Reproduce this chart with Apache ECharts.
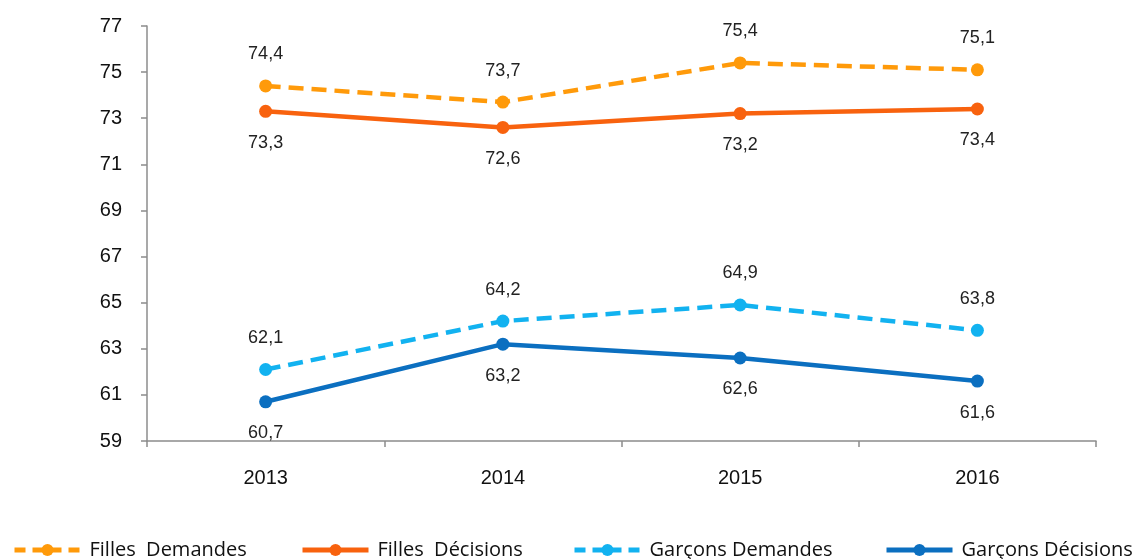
<!DOCTYPE html>
<html>
<head>
<meta charset="utf-8">
<script src="https://cdn.jsdelivr.net/npm/echarts@6/dist/echarts.min.js"></script>
<style>
  html, body { margin: 0; padding: 0; background: #fff; }
  #chart { width: 1136px; height: 559px; }
</style>
</head>
<body>
<div id="chart"></div>
<script>
var years = ['2013', '2014', '2015', '2016'];
var fillesDemandes = [74.4, 73.7, 75.4, 75.1];
var fillesDecisions = [73.3, 72.6, 73.2, 73.4];
var garconsDemandes = [62.1, 64.2, 64.9, 63.8];
var garconsDecisions = [60.7, 63.2, 62.6, 61.6];

var names = ['Filles  Demandes', 'Filles  Décisions', 'Garçons Demandes', 'Garçons Décisions'];
var colors = ['#FF9A0A', '#F8620E', '#12B2F0', '#0B6FC0'];

var arialish = "'Liberation Sans', Arial, sans-serif";

var chart = echarts.init(document.getElementById('chart'));

var fmt = function (p) { return String(p.value).replace('.', ','); };

function makeSeries(i, data, dashed, pos) {
    return {
        name: names[i],
        type: 'line',
        data: data,
        symbol: 'circle',
        symbolSize: 13,
        itemStyle: { color: colors[i] },
        lineStyle: { color: colors[i], width: 4.5, type: dashed ? [15, 8] : 'solid' },
        label: {
            show: true,
            position: pos,
            distance: 16,
            color: '#222',
            fontSize: 18,
            fontFamily: arialish,
            formatter: fmt
        }
    };
}

// one legend per item so each can sit where the original puts it
function makeLegend(i, left, dashed) {
    return {
        data: [names[i]],
        left: left,
        top: 540,
        padding: 0,
        itemWidth: 66,
        itemHeight: 15,
        itemGap: 0,
        lineStyle: { width: 5, type: dashed ? [11, 7] : 'solid' },
        textStyle: { fontSize: 20, color: '#111', fontFamily: "'Open Sans', sans-serif", padding: [0, 0, 0, 4] }
    };
}

var option = {
    backgroundColor: '#fff',
    animation: false,
    legend: [
        makeLegend(0, 12, true),
        makeLegend(1, 300, false),
        makeLegend(2, 572, true),
        makeLegend(3, 884, false)
    ],
    grid: { left: 147, top: 26, width: 949, height: 415 },
    xAxis: {
        type: 'category',
        data: years,
        boundaryGap: true,
        axisLine: { lineStyle: { color: '#8c8c8c', width: 1.5 } },
        axisTick: { show: true, length: 6, lineStyle: { color: '#8c8c8c', width: 1.5 } },
        axisLabel: { margin: 27, fontSize: 20, color: '#111', fontFamily: arialish }
    },
    yAxis: {
        type: 'value',
        min: 59,
        max: 77,
        interval: 2,
        axisLine: { show: true, lineStyle: { color: '#8c8c8c', width: 1.5 } },
        axisTick: { show: true, length: 6, lineStyle: { color: '#8c8c8c', width: 1.5 } },
        splitLine: { show: false },
        axisLabel: { margin: 25, fontSize: 20, color: '#111', fontFamily: arialish }
    },
    series: [
        makeSeries(0, fillesDemandes, true, 'top'),
        makeSeries(1, fillesDecisions, false, 'bottom'),
        makeSeries(2, garconsDemandes, true, 'top'),
        makeSeries(3, garconsDecisions, false, 'bottom')
    ]
};

chart.setOption(option);
</script>
</body>
</html>
